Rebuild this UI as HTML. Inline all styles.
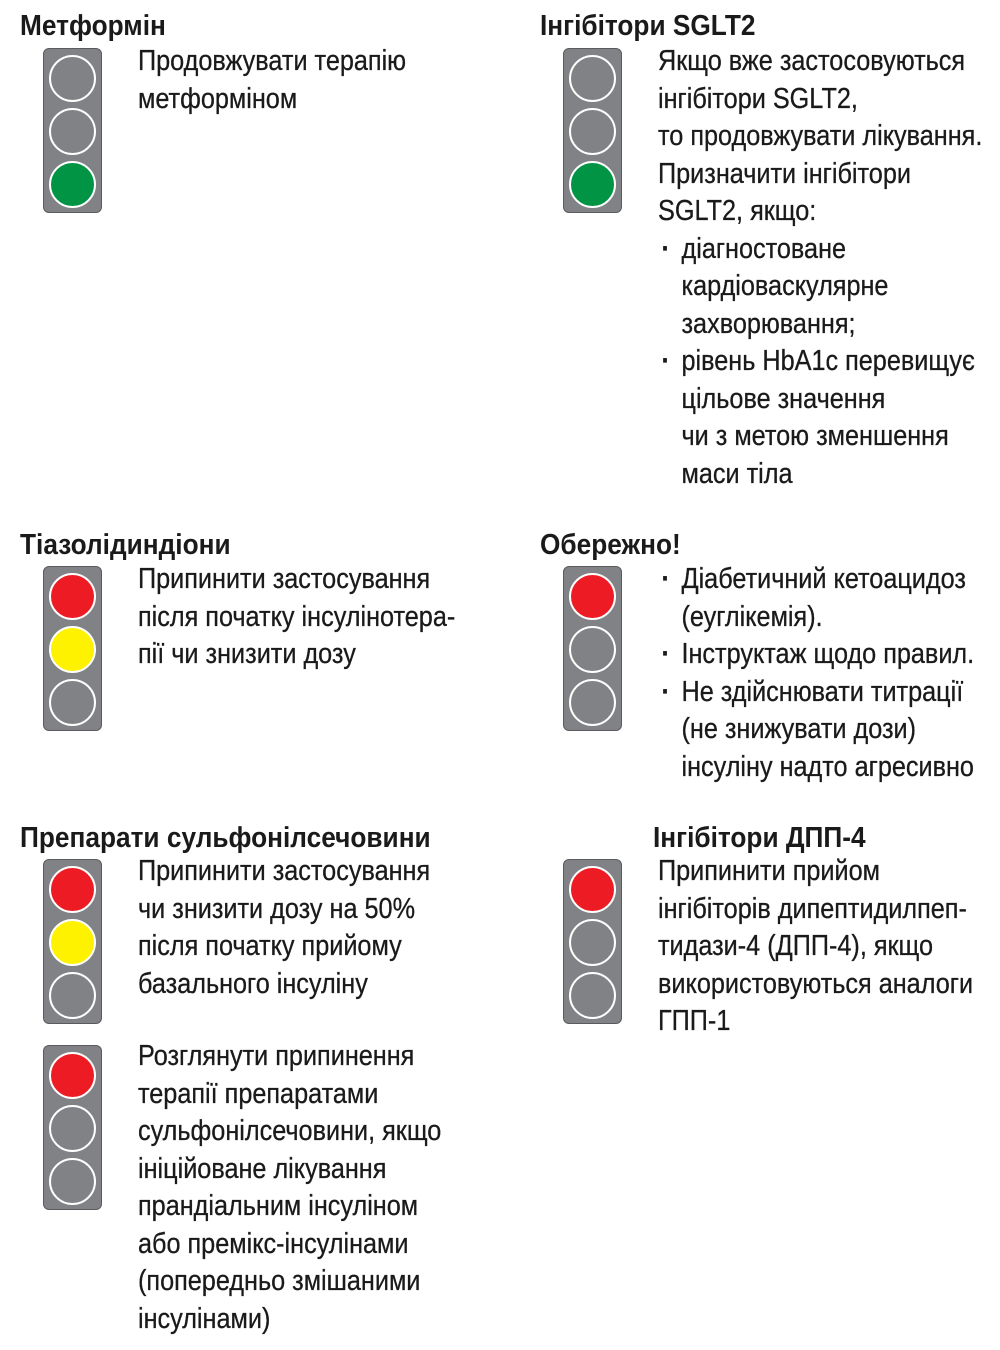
<!DOCTYPE html>
<html><head><meta charset="utf-8"><style>
body{margin:0;width:1000px;height:1350px;background:#fff;position:relative;overflow:hidden;font-family:"Liberation Sans Narrow","Liberation Sans",sans-serif;color:#1a1a1a}
.t{position:absolute;white-space:nowrap;font-size:29px;line-height:37.5px;transform:scaleX(0.87);transform-origin:0 0;-webkit-text-stroke:0.3px #1a1a1a}
.h{position:absolute;white-space:nowrap;font-size:29px;line-height:37.5px;font-weight:bold;transform:scaleX(0.905);transform-origin:0 0}
.b{position:relative;padding-left:27px}
.b:before{content:"·";position:absolute;left:4px;font-weight:bold}
.tl{position:absolute;width:57px;height:163px;background:#808285;border:1px solid #5a5b5d;border-radius:6px}
.tl i{position:absolute;left:5px;width:43px;height:43px;border-radius:50%;border:2px solid #fff;background:#808285}
.tl i:nth-child(1){top:6px}.tl i:nth-child(2){top:59px}.tl i:nth-child(3){top:112px}
.r{background:#ed1c24!important}.y{background:#fff200!important}.g{background:#009444!important}
</style></head><body>
<div class="h" style="left:20px;top:8px">Метформін</div>
<div class="tl" style="left:43px;top:48px"><i></i><i></i><i class="g"></i></div>
<div class="t" style="left:138px;top:43px">Продовжувати терапію<br>метформіном</div>

<div class="h" style="left:540px;top:8px">Інгібітори SGLT2</div>
<div class="tl" style="left:563px;top:48px"><i></i><i></i><i class="g"></i></div>
<div class="t" style="left:658px;top:43px">Якщо вже застосовуються<br>інгібітори SGLT2,<br>то продовжувати лікування.<br>Призначити інгібітори<br>SGLT2, якщо:
<div class="b">діагностоване<br>кардіоваскулярне<br>захворювання;</div>
<div class="b">рівень HbA1c перевищує<br>цільове значення<br>чи з метою зменшення<br>маси тіла</div></div>

<div class="h" style="left:20px;top:527px">Тіазолідиндіони</div>
<div class="tl" style="left:43px;top:566px"><i class="r"></i><i class="y"></i><i></i></div>
<div class="t" style="left:138px;top:561px">Припинити застосування<br>після початку інсулінотера-<br>пії чи знизити дозу</div>

<div class="h" style="left:540px;top:527px">Обережно!</div>
<div class="tl" style="left:563px;top:566px"><i class="r"></i><i></i><i></i></div>
<div class="t" style="left:658px;top:561px">
<div class="b">Діабетичний кетоацидоз<br>(еуглікемія).</div>
<div class="b">Інструктаж щодо правил.</div>
<div class="b">Не здійснювати титрації<br>(не знижувати дози)<br>інсуліну надто агресивно</div></div>

<div class="h" style="left:20px;top:820px">Препарати сульфонілсечовини</div>
<div class="tl" style="left:43px;top:859px"><i class="r"></i><i class="y"></i><i></i></div>
<div class="t" style="left:138px;top:853px">Припинити застосування<br>чи знизити дозу на 50%<br>після початку прийому<br>базального інсуліну</div>

<div class="h" style="left:653px;top:820px">Інгібітори ДПП-4</div>
<div class="tl" style="left:563px;top:859px"><i class="r"></i><i></i><i></i></div>
<div class="t" style="left:658px;top:853px">Припинити прийом<br>інгібіторів дипептидилпеп-<br>тидази-4 (ДПП-4), якщо<br>використовуються аналоги<br>ГПП-1</div>

<div class="tl" style="left:43px;top:1045px"><i class="r"></i><i></i><i></i></div>
<div class="t" style="left:138px;top:1038px">Розглянути припинення<br>терапії препаратами<br>сульфонілсечовини, якщо<br>ініційоване лікування<br>прандіальним інсуліном<br>або премікс-інсулінами<br>(попередньо змішаними<br>інсулінами)</div>
</body></html>
